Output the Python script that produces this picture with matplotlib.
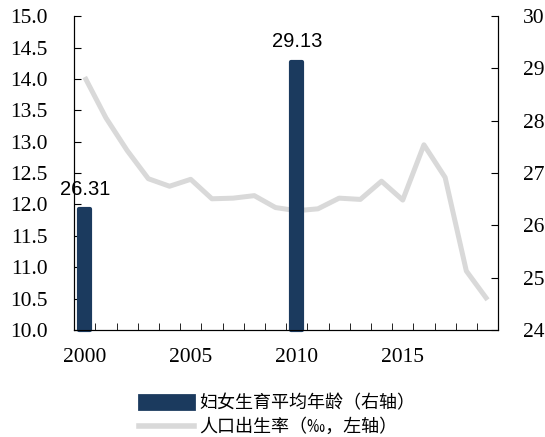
import matplotlib.pyplot as plt
from matplotlib.lines import Line2D
from matplotlib.patches import Patch

# 数据
years = list(range(2000, 2020))
birth_rate = [14.03, 13.38, 12.86, 12.41, 12.29, 12.40, 12.09, 12.10, 12.14, 11.95,
              11.90, 11.93, 12.10, 12.08, 12.37, 12.07, 12.95, 12.43, 10.94, 10.48]
age_years = [2000, 2010]
avg_age = [26.31, 29.13]

bar_color = '#1b3a5e'
line_color = '#d9d9d9'

fig = plt.figure(figsize=(5.45, 4.37), dpi=100)
ax = fig.add_axes([0.136, 0.245, 0.778, 0.718])
ax2 = ax.twinx()

idx = list(range(len(years)))
ax.plot(idx, birth_rate, color=line_color, lw=3.6, solid_capstyle='butt')
ax.set_ylim(10, 15)
ax.set_yticks([10 + 0.5 * k for k in range(11)])
ax.set_yticklabels(['%.1f' % (10 + 0.5 * k) for k in range(11)])

bar_x = [years.index(y) for y in age_years]
bars = ax2.bar(bar_x, [a - 24 for a in avg_age], bottom=24, width=0.5,
               color=bar_color, edgecolor=bar_color, linewidth=3, joinstyle='round')
for b in bars:
    b.set_clip_on(False)
for x, a in zip(bar_x, avg_age):
    ax2.text(x, a + 0.2, '%.2f' % a, ha='center', va='bottom',
             fontsize=14.5, family='Liberation Sans')
ax2.set_ylim(24, 30)
ax2.set_yticks(range(24, 31))

ax.set_xlim(-0.5, len(years) - 0.5)
ax.set_xticks([i for i in idx if years[i] % 5 == 0])
ax.set_xticklabels([str(y) for y in years if y % 5 == 0])
ax.set_xticks([i + 0.5 for i in idx[:-1]], minor=True)
ax.tick_params(axis='x', which='major', length=0, pad=13)
ax.tick_params(axis='x', which='minor', direction='in', length=5)
ax.tick_params(axis='y', direction='in', length=5, pad=19)
ax2.tick_params(axis='y', direction='in', length=5, pad=18)

for a in (ax, ax2):
    a.spines['top'].set_visible(False)
    for lab in a.get_xticklabels() + a.get_yticklabels():
        lab.set_family('Liberation Serif')
        lab.set_fontsize(15.5)

handles = [Patch(facecolor=bar_color, edgecolor=bar_color, joinstyle='round', linewidth=2),
           Line2D([], [], color=line_color, lw=4)]
labels = ['妇女生育平均年龄（右轴）', '人口出生率（‰，左轴）']
fig.legend(handles, labels, loc='center', bbox_to_anchor=(0.509, 0.05),
           frameon=False, borderpad=0, handlelength=3.05, handleheight=0.85,
           labelspacing=0.35, handletextpad=0.28,
           prop={'family': ['Noto Sans CJK SC', 'DejaVu Sans'], 'size': 13})

fig.savefig('out.png', dpi=100)
